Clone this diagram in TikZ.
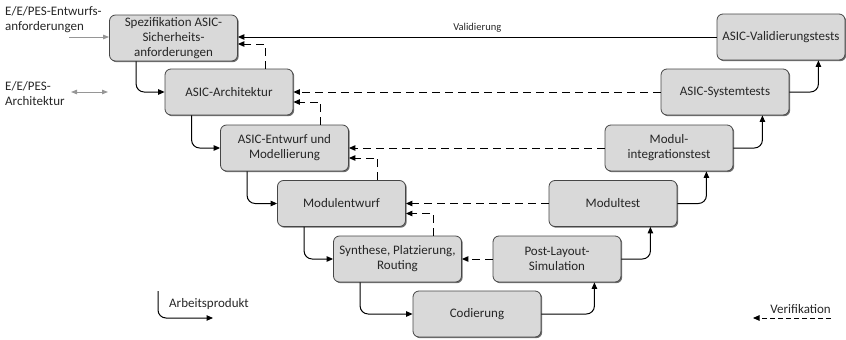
\documentclass[tikz,border=0pt]{standalone}
\usepackage{fontspec}
\setmainfont{Carlito}
\usepackage{tikz}
\usetikzlibrary{arrows.meta,positioning,calc,shadows}
\definecolor{boxfill}{RGB}{217,217,217}
\definecolor{boxline}{RGB}{70,70,70}
\definecolor{inputgray}{RGB}{150,150,150}
\definecolor{textdark}{RGB}{38,38,38}
\tikzset{
  phasebox/.style={draw=boxline, fill=boxfill, rounded corners=6pt, line width=0.8pt,
    minimum width=128pt, minimum height=46pt, inner sep=1pt, align=center,
    text=textdark, font=\fontsize{13}{15}\selectfont,
    drop shadow={shadow xshift=1.2pt, shadow yshift=-1.2pt, fill=black!70, opacity=0.8}},
  flow/.style={-{Triangle[length=6.5pt,width=5.5pt]}, line width=1pt, rounded corners=8pt},
  verif/.style={-{Triangle[length=6.5pt,width=5.5pt]}, line width=1pt, dash pattern=on 8pt off 5pt},
  inputflow/.style={-{Triangle[length=6pt,width=4.5pt]}, line width=1pt, draw=inputgray},
  inputboth/.style={{Triangle[length=6pt,width=4.5pt]}-{Triangle[length=6pt,width=4.5pt]}, line width=1pt, draw=inputgray},
  label/.style={font=\fontsize{13}{15}\selectfont, text=textdark, align=left, inner sep=0pt}
}

\begin{document}
\begin{tikzpicture}[x=1pt, y=-1pt]
\useasboundingbox (0,0) rectangle (846,340);

% left arm
\node[phasebox] (spec) at (173.5,38) {Spezifikation ASIC-\\Sicherheits-\\anforderungen};
\node[phasebox] (arch) at (229,92) {ASIC-Architektur};
\node[phasebox] (ent) at (284.5,148) {ASIC-Entwurf und\\Modellierung};
\node[phasebox] (modent) at (341.5,203.5) {Modulentwurf};
\node[phasebox] (syn) at (397.5,259) {Synthese, Platzierung,\\Routing};
\node[phasebox] (cod) at (477,314) {Codierung};

% right arm
\node[phasebox] (post) at (557,259) {Post-Layout-\\Simulation};
\node[phasebox] (modt) at (613,203.5) {Modultest};
\node[phasebox] (modint) at (669,148) {Modul-\\integrationstest};
\node[phasebox] (sys) at (725,92) {ASIC-Systemtests};
\node[phasebox] (val) at (781,37) {ASIC-Validierungstests};

% inputs
\node[label, anchor=west] (req) at (5,20) {E/E/PES-Entwurfs-\\anforderungen};
\node[label, anchor=west] (archin) at (5,94) {E/E/PES-\\Architektur};
\coordinate (reqin) at (69,37);
\coordinate (archl) at (71,92);
\coordinate (archr) at (108,92);
\draw[inputflow] (reqin) -- (reqin -| spec.west);
\draw[inputboth] (archl) -- (archr);

% work products
\draw[flow] ([xshift=27pt]spec.south west) |- (arch.west);
\draw[flow] ([xshift=27pt]arch.south west) |- (ent.west);
\draw[flow] ([xshift=27pt]ent.south west) |- (modent.west);
\draw[flow] ([xshift=27pt]modent.south west) |- (syn.west);
\draw[flow] ([xshift=27pt]syn.south west) |- (cod.west);
\draw[flow] (cod.east) -| ([xshift=-27pt]post.south east);
\draw[flow] (post.east) -| ([xshift=-27pt]modt.south east);
\draw[flow] (modt.east) -| ([xshift=-27pt]modint.south east);
\draw[flow] (modint.east) -| ([xshift=-27pt]sys.south east);
\draw[flow] (sys.east) -| ([xshift=-27pt]val.south east);

% validation and verification
\draw[flow] (val.west) -- (val.west -| spec.east)
  node[midway, above=1pt, text=textdark, font=\fontsize{10.5}{12}\selectfont] {Validierung};
\draw[verif] (sys.west) -- (arch.east);
\draw[verif] (modint.west) -- (ent.east);
\draw[verif] (modt.west) -- (modent.east);
\draw[verif] (post.west) -- (syn.east);
\draw[verif] ([xshift=-28pt]arch.north east) |- ([yshift=-6pt]spec.east);
\draw[verif] ([xshift=-28pt]ent.north east) |- ([yshift=-10pt]arch.east);
\draw[verif] ([xshift=-28pt]modent.north east) |- ([yshift=-10pt]ent.east);
\draw[verif] ([xshift=-28pt]syn.north east) |- ([yshift=-10pt]modent.east);

% legend
\coordinate (apstart) at (158,291);
\coordinate (apend) at (213,318);
\draw[flow] (apstart) |- (apend);
\node[label, anchor=west] (aptext) at (169,304) {Arbeitsprodukt};
\coordinate (vstart) at (831,318);
\coordinate (vend) at (753,318);
\draw[verif, dash pattern=on 5pt off 3pt] (vstart) -- (vend);
\node[label, anchor=south east] (vtext) at (831,314) {Verifikation};
\end{tikzpicture}
\end{document}
